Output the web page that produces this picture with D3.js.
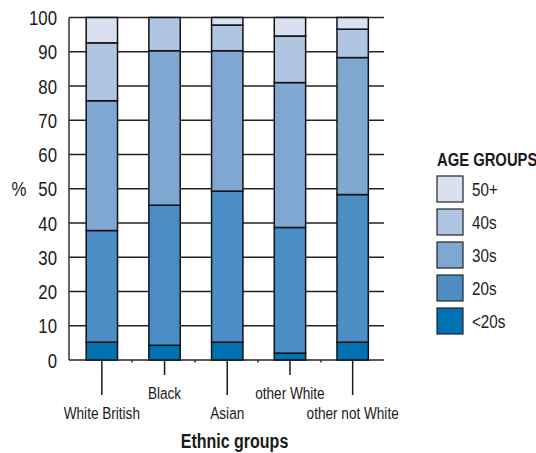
<!DOCTYPE html>
<html><head><meta charset="utf-8">
<script src="https://cdn.jsdelivr.net/npm/d3@7"></script>
<style>body{margin:0;background:#fff}svg{display:block}text{font-family:"Liberation Sans",Arial,sans-serif;fill:#1a1a1a}</style>
</head><body><svg id="c" width="536" height="453"></svg>
<script>
const categories = ["White British","Black","Asian","other White","other not White"];
const ageGroups = ["<20s","20s","30s","40s","50+"];
const under20 = [5.2, 4.3, 5.2, 2.0, 5.2];
const twenties = [32.6, 40.9, 44.1, 36.7, 43.1];
const thirties = [37.9, 45.1, 41.0, 42.3, 40.0];
const forties = [16.9, 9.7, 7.5, 13.6, 8.3];
const fiftyPlus = [7.4, 0.0, 2.2, 5.4, 3.4];
const yTicks = [0,10,20,30,40,50,60,70,80,90,100];
const colors = ["#0072b2","#4a8ec5","#80a7d1","#b0c5e1","#d9e0ef"];

const SX = 0.8;
function ntext(sel, xf, yf){
  return sel.attr("transform",(d,i)=>`translate(${typeof xf==="function"?xf(d,i):xf},${typeof yf==="function"?yf(d,i):yf}) scale(${SX},1)`);
}

const series = [under20, twenties, thirties, forties, fiftyPlus];
const rows = categories.map((c,i)=>{const r={cat:c}; ageGroups.forEach((g,j)=>r[g]=series[j][i]); return r;});
const stack = d3.stack().keys(ageGroups)(rows);

const svg = d3.select("#c");
const L=69, R=384, T=17.5, B=360;
const x = d3.scaleBand().domain(categories).range([L+1.5,R]).paddingInner(0.5).paddingOuter(0.25);
const xb = d3.scaleBand().domain(categories).range([L,R]);
const y = d3.scaleLinear().domain([0,100]).range([B,T]);

svg.append("g").selectAll("line").data(yTicks).join("line")
  .attr("x1",L).attr("x2",R).attr("y1",d=>y(d)).attr("y2",d=>y(d))
  .attr("stroke","#222").attr("stroke-width",1.5);
svg.append("line").attr("x1",L).attr("x2",L).attr("y1",T).attr("y2",B).attr("stroke","#333").attr("stroke-width",1.5);
ntext(svg.append("g").selectAll("text").data(yTicks).join("text"), 57, d=>y(d))
  .attr("dy","0.36em").attr("text-anchor","end").attr("font-size",21).text(d=>d);
ntext(svg.append("text"), 19, y(50)).attr("dy","0.36em").attr("text-anchor","middle").attr("font-size",21).text("%");

svg.append("g").selectAll("g").data(stack).join("g").attr("fill",(d,i)=>colors[i])
  .selectAll("rect").data(d=>d).join("rect")
  .attr("x",d=>x(d.data.cat)).attr("width",x.bandwidth())
  .attr("y",d=>y(d[1])).attr("height",d=>Math.max(0,y(d[0])-y(d[1])))
  .attr("stroke","#111").attr("stroke-width",1.5);

const bounds = categories.slice(1).map(c=>xb(c));
svg.append("g").selectAll("line").data(bounds).join("line")
  .attr("x1",d=>d).attr("x2",d=>d).attr("y1",B).attr("y2",B+2.5).attr("stroke","#2a2a2a").attr("stroke-width",1.5);
const tickLen = [35,15,35,15,35];
const cx = c=>x(c)+x.bandwidth()/2;
svg.append("g").selectAll("line").data(categories).join("line")
  .attr("x1",cx).attr("x2",cx).attr("y1",B).attr("y2",(d,i)=>B+tickLen[i]).attr("stroke","#1a1a1a").attr("stroke-width",1.5);
ntext(svg.append("g").selectAll("text").data(categories).join("text"), cx, (d,i)=>B+tickLen[i]+24)
  .attr("text-anchor","middle").attr("font-size",17).text(d=>d);
ntext(svg.append("text"), (L+R)/2+8, 448).attr("text-anchor","middle").attr("font-size",20).attr("font-weight","bold").text("Ethnic groups");

ntext(svg.append("text"), 437, 166).attr("font-size",18.5).attr("font-weight","bold").text("AGE GROUPS");
const leg = ageGroups.slice().reverse();
const lg = svg.append("g").selectAll("g").data(leg).join("g").attr("transform",(d,i)=>`translate(437,${176+i*33})`);
lg.append("rect").attr("width",26).attr("height",26).attr("fill",d=>colors[ageGroups.indexOf(d)]).attr("stroke","#222").attr("stroke-width",1.2);
ntext(lg.append("text"), 35, 13).attr("dy","0.36em").attr("font-size",19).text(d=>d);
</script></body></html>
